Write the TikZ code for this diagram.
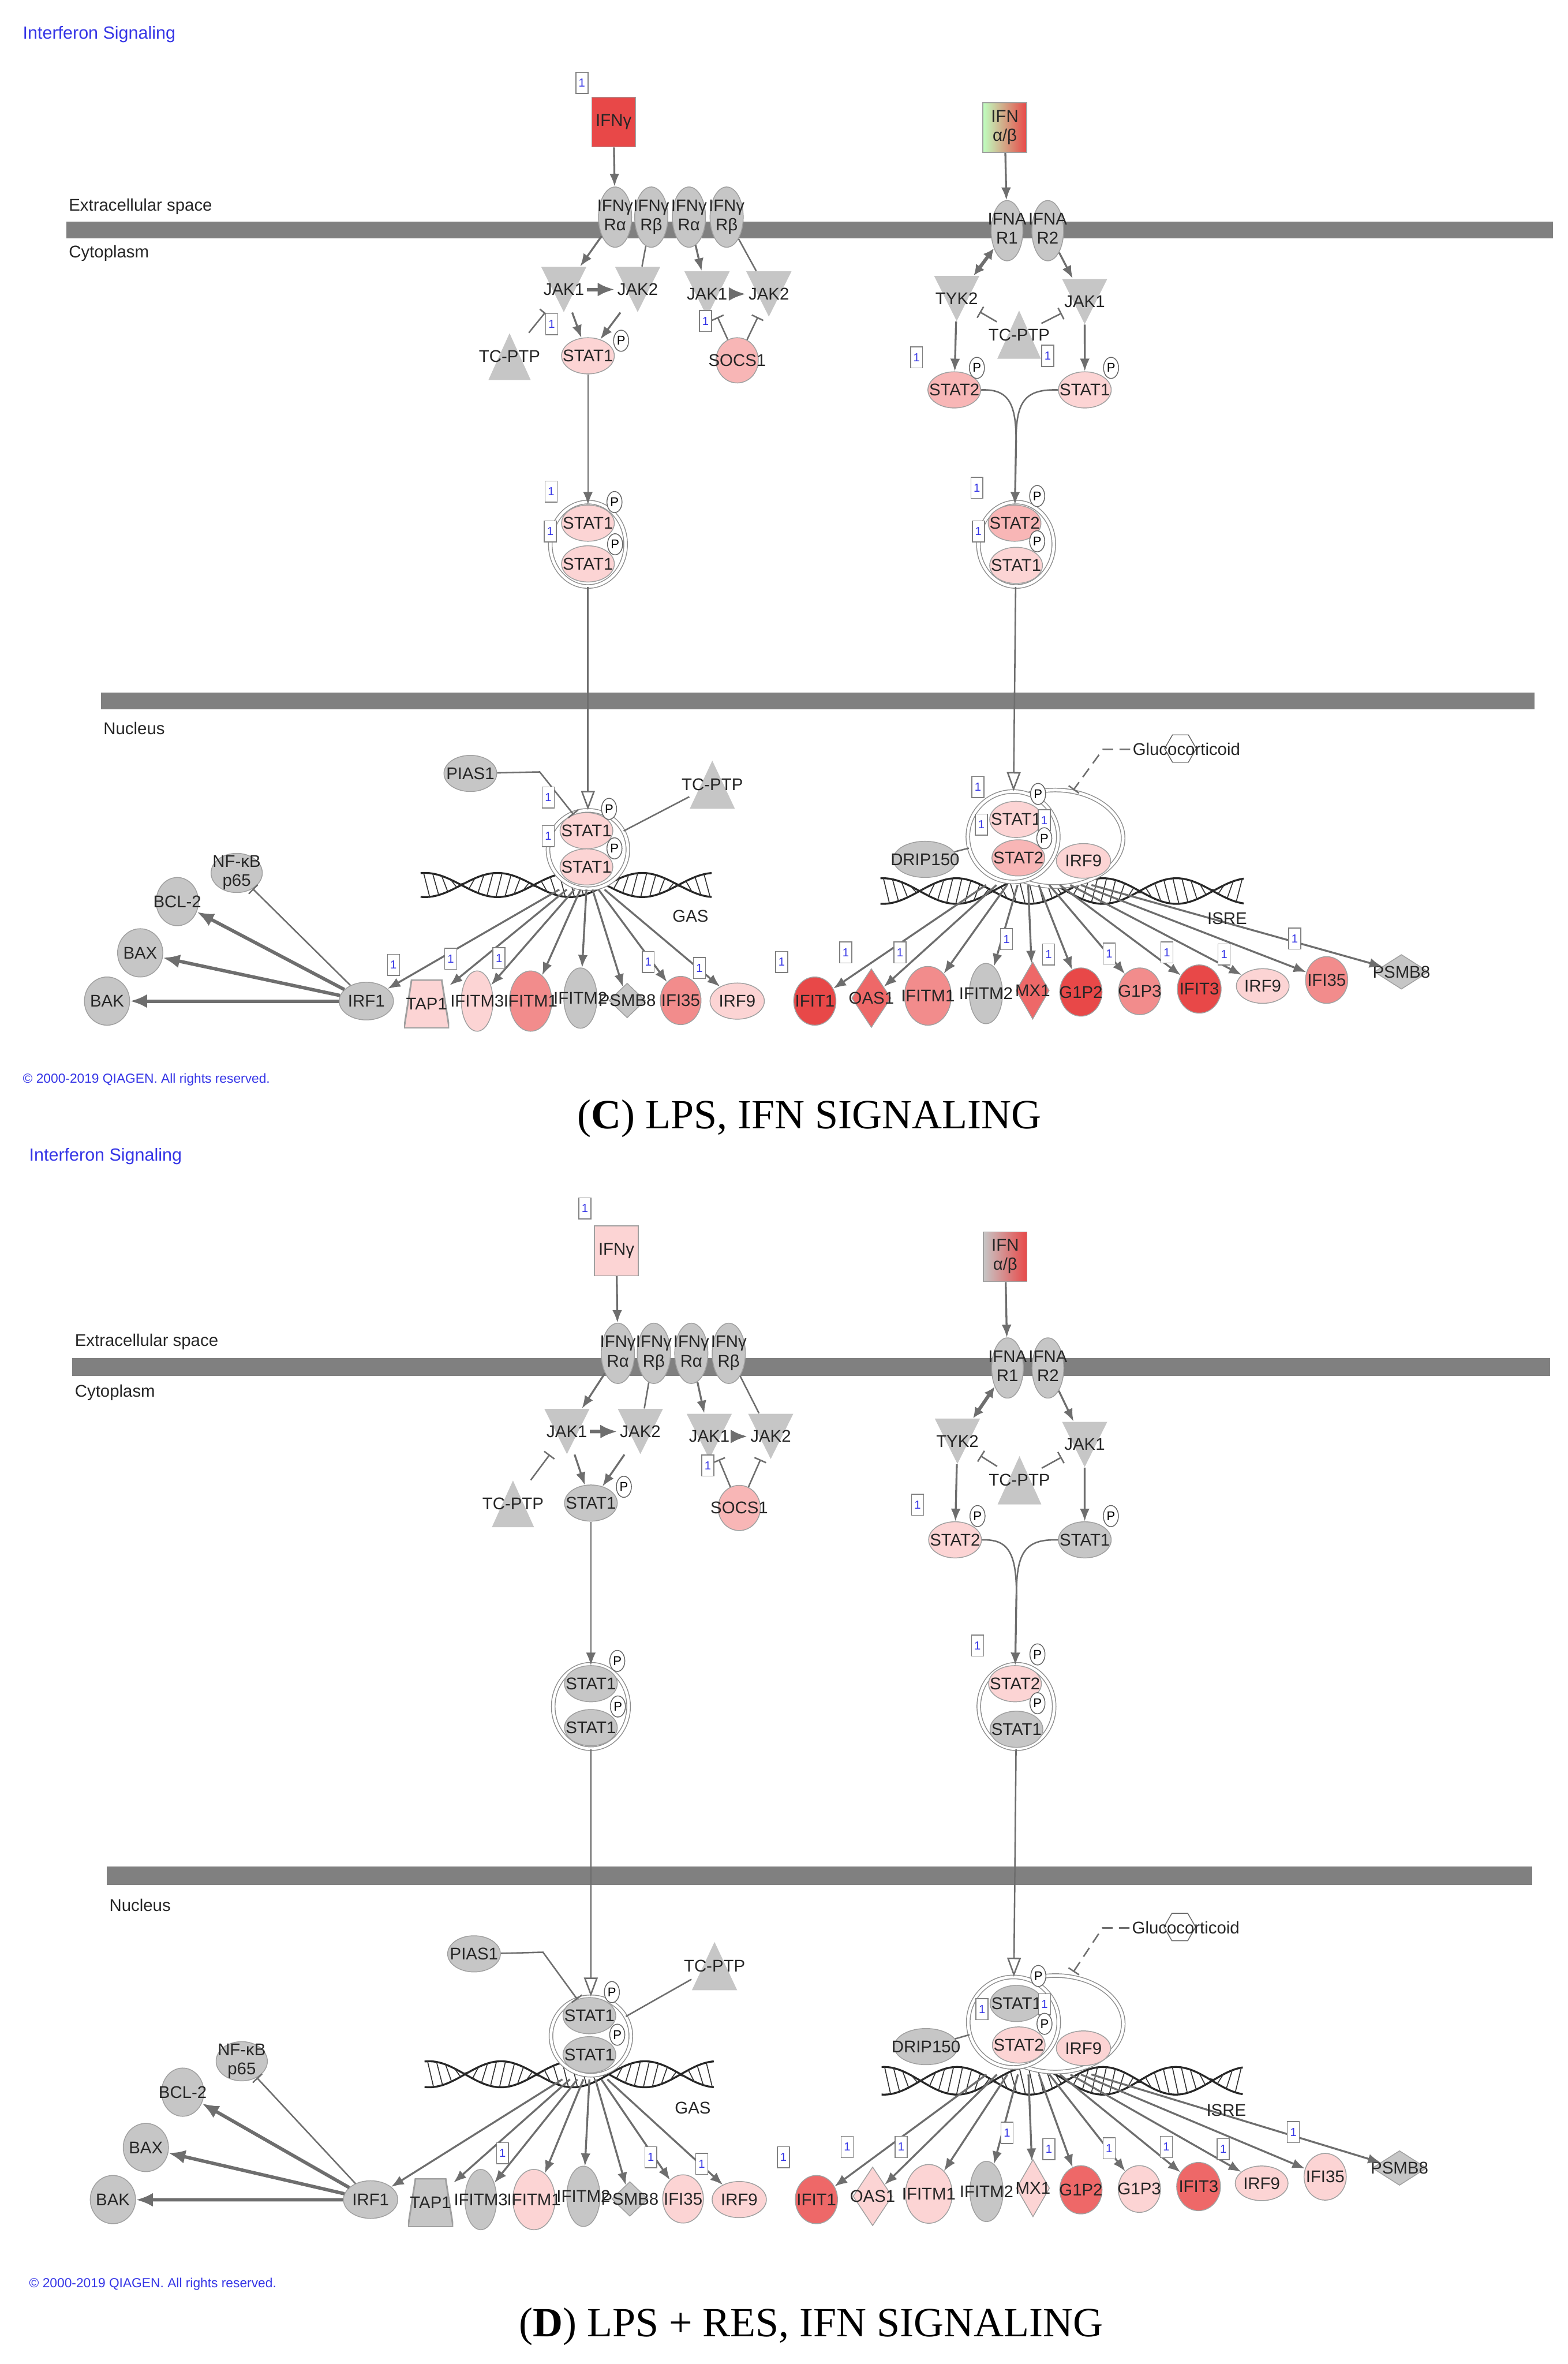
\documentclass[tikz,border=0pt]{standalone}
\usepackage{fontspec}
\setmainfont{Liberation Serif}
\setsansfont{Liberation Sans}
\usetikzlibrary{shapes.geometric,arrows.meta}
\definecolor{nodegray}{HTML}{C6C6C6}
\definecolor{edgegray}{HTML}{A0A0A0}
\definecolor{linkgray}{HTML}{6E6E6E}
\definecolor{barsgray}{HTML}{808080}
\definecolor{qblue}{HTML}{3535E6}
\definecolor{lvA}{HTML}{FCD4D4}
\definecolor{lvB}{HTML}{F8B6B6}
\definecolor{lvC}{HTML}{F28C8C}
\definecolor{lvD}{HTML}{EE6868}
\definecolor{lvE}{HTML}{E84848}
\newdimen\pxu \pxu=0.025cm
\newcommand{\genefont}{\sffamily\fontsize{8}{9}\selectfont}
\newcommand{\twoline}[2]{\smash{\raisebox{-.25em}{\begin{tabular}{@{}c@{}}#1\\#2\end{tabular}}}}
\newif\ifcmarks
\newcommand{\ifnpanel}[1]{%
\fill[barsgray] (44,147) rectangle (1030,158);
\fill[barsgray] (67,459.5) rectangle (1018,470.5);
\draw[dna] plot[domain=279:472,samples=100] (\x,{587+8*sin(3.75*(\x-306))});
\draw[dna] plot[domain=279:472,samples=100] (\x,{587-8*sin(3.75*(\x-306))});
\foreach \x in {281,287,...,467} \draw[rung] (\x,{587+8*sin(3.75*(\x-306))}) -- (\x+4,{587-8*sin(3.75*(\x-302))});
\draw[dna] plot[domain=584:825,samples=120] (\x,{591+8.5*sin(3.7*(\x-610))});
\draw[dna] plot[domain=584:825,samples=120] (\x,{591-8.5*sin(3.7*(\x-610))});
\foreach \x in {586,592,...,820} \draw[rung] (\x,{591+8.5*sin(3.7*(\x-610))}) -- (\x+4,{591-8.5*sin(3.7*(\x-606))});
\node[cpx, minimum width=50\pxu, minimum height=56\pxu] (dimL) at (390,361) {};
\node[cpx, minimum width=50\pxu, minimum height=56\pxu] (dimR) at (674,361) {};
\node[cpx, minimum width=53\pxu, minimum height=52\pxu] (cpxL) at (390,563.5) {};
\node[cpx, minimum width=90\pxu, minimum height=64\pxu] (isgf) at (700,556) {};
\node[cpx, minimum width=60\pxu, minimum height=60\pxu] (stdim) at (672,555) {};
\node[boxn, fill=kifng] (ifng) at (407,81) {IFNγ};
\node[boxn, left color=kabl, middle color=kabm, right color=kabr] (ifnab) at (666.5,84.6) {\twoline{IFN}{α/β}};
\node[rec] (rga) at (408,144) {\twoline{IFNγ}{Rα}};
\node[rec] (rgb) at (432,144) {\twoline{IFNγ}{Rβ}};
\node[rec] (rgc) at (457,144) {\twoline{IFNγ}{Rα}};
\node[rec] (rgd) at (482,144) {\twoline{IFNγ}{Rβ}};
\node[rec, minimum width=21\pxu] (ar1) at (668,153) {\twoline{IFNA}{R1}};
\node[rec, minimum width=21\pxu] (ar2) at (695,153) {\twoline{IFNA}{R2}};
\node[tridown] (jak1a) at (374,192) {JAK1};
\node[tridown] (jak2a) at (423,192) {JAK2};
\node[tridown] (jak1b) at (469,195) {JAK1};
\node[tridown] (jak2b) at (510,195) {JAK2};
\node[tridown] (tyk) at (634.6,198) {TYK2};
\node[tridown] (jakr) at (719.5,200) {JAK1};
\node[triup, minimum width=28\pxu, minimum height=31\pxu] (tcpa) at (338,236.5) {TC-PTP};
\node[triup, minimum width=29\pxu, minimum height=32\pxu] (tcpb) at (676,222) {TC-PTP};
\node[triup, minimum width=30\pxu, minimum height=32\pxu] (tcpn) at (472.5,520.5) {TC-PTP};
\node[statn, fill=kstc] (stc) at (390,236) {STAT1};
\node[gene, fill=ksocs, minimum width=28\pxu, minimum height=30\pxu] (socs) at (489,239) {SOCS1};
\node[statn, fill=kstb] (st2c) at (633,258.6) {STAT2};
\node[statn, fill=ksta] (st1c) at (719.6,258.6) {STAT1};
\node[statn, fill=kdl] (sdl1) at (390,347) {STAT1};
\node[statn, fill=kdl] (sdl2) at (390,374) {STAT1};
\node[statn, fill=kdrb] (sdr2) at (673,347) {STAT2};
\node[statn, fill=kdra] (sdr1) at (674,375) {STAT1};
\node[statn, fill=nodegray] (pias) at (312,513) {PIAS1};
\node[statn, fill=knl] (snl1) at (389,551) {STAT1};
\node[statn, fill=knl] (snl2) at (389,575) {STAT1};
\node[statn, fill=knsa] (snr1) at (674,543.5) {STAT1};
\node[statn, fill=knsb] (snr2) at (675.5,569) {STAT2};
\node[statn, fill=knirf, minimum width=36\pxu, minimum height=23\pxu] (nirf) at (718.7,571) {IRF9};
\node[statn, fill=nodegray, minimum width=42\pxu] (drip) at (613.6,570) {DRIP150};
\node[hexa] (gluhex) at (783,496.5) {};
\node[lblt] (gluco) at (787,497) {Glucocorticoid};
\coordinate (glutip) at (712,524);
\node[gene, fill=nodegray, minimum width=34\pxu, minimum height=26\pxu] (nfkb) at (157,579) {\twoline{NF-κB}{p65}};
\node[gene, fill=nodegray, minimum width=28\pxu, minimum height=32\pxu] (bcl) at (117.6,598) {BCL-2};
\node[gene, fill=nodegray, minimum width=30\pxu, minimum height=32\pxu] (bax) at (93,632) {BAX};
\node[gene, fill=nodegray, minimum width=30\pxu, minimum height=32\pxu] (bak) at (71,664) {BAK};
\node[gene, fill=nodegray, minimum width=36\pxu, minimum height=25\pxu] (irf1) at (243,664) {IRF1};
\node[trap=ktap] (tap) at (283,666) {TAP1};
\node[gene, fill=kiftc, minimum width=21\pxu, minimum height=40\pxu] (ifitmIII) at (316.5,664) {IFITM3};
\node[gene, fill=kifta, minimum width=28\pxu, minimum height=40\pxu] (ifitmIa) at (352,664) {IFITM1};
\node[gene, fill=nodegray, minimum width=22\pxu, minimum height=40\pxu] (ifitmIIa) at (385,662) {IFITM2};
\node[dia, fill=nodegray, minimum width=24\pxu, minimum height=23\pxu] (psmba) at (416,663.6) {PSMB8};
\node[gene, fill=kifia, minimum width=27\pxu, minimum height=32\pxu] (ifia) at (451.5,663.6) {IFI35};
\node[gene, fill=kirfa, minimum width=36\pxu, minimum height=24\pxu] (irfa) at (489,664) {IRF9};
\node[gene, fill=kifit, minimum width=28\pxu, minimum height=32\pxu] (ifitI) at (540.5,664) {IFIT1};
\node[dia, fill=koas, minimum width=26\pxu, minimum height=39\pxu] (oas) at (578,662) {OAS1};
\node[gene, fill=kiftb, minimum width=31\pxu, minimum height=39\pxu] (ifitmIb) at (615.5,660.5) {IFITM1};
\node[gene, fill=nodegray, minimum width=22\pxu, minimum height=40\pxu] (ifitmIIb) at (654,659) {IFITM2};
\node[dia, fill=kmx, minimum width=22\pxu, minimum height=38\pxu] (mx) at (685,657) {MX1};
\node[gene, fill=kgpb, minimum width=28\pxu, minimum height=32\pxu] (gpII) at (717,658) {G1P2};
\node[gene, fill=kgpc, minimum width=28\pxu, minimum height=31\pxu] (gpIII) at (756,657.5) {G1P3};
\node[gene, fill=kifitc, minimum width=29\pxu, minimum height=32\pxu] (ifitIII) at (795.5,656) {IFIT3};
\node[gene, fill=kirfb, minimum width=35\pxu, minimum height=23\pxu] (irfb) at (837.6,654) {IRF9};
\node[gene, fill=kifib, minimum width=28\pxu, minimum height=31\pxu] (ifib) at (880,650) {IFI35};
\node[dia, fill=nodegray, minimum width=36\pxu, minimum height=23\pxu] (psmbb) at (929.6,644.6) {PSMB8};
\draw[arr] (ifng) -- (rga);
\draw[arr] (rga) -- (jak1a);
\draw[conn] (rgb) -- (jak2a);
\draw[arr] (rgc) -- (jak1b);
\draw[conn] (rgd) -- (jak2b);
\draw[arrH] (jak1a) -- (jak2a);
\draw[arrH] (jak1b) -- (jak2b);
\draw[arr] (jak1a) -- (stc);
\draw[arr] (jak2a) -- (stc);
\draw[inh] (tcpa) -- (jak1a);
\draw[inh] (socs) -- (jak1b);
\draw[inh] (socs) -- (jak2b);
\draw[arr] (ifnab) -- (ar1);
\draw[dbl] (ar1) -- (tyk);
\draw[arr] (ar2) -- (jakr);
\draw[inh] (tcpb) -- (tyk);
\draw[inh] (tcpb) -- (jakr);
\draw[arr] (tyk) -- (st2c);
\draw[arr] (jakr) -- (st1c);
\coordinate (mrg) at (674,292);
\draw[conn] (st2c.east) .. controls (668,258) and (674,266) .. (mrg);
\draw[conn] (st1c.west) .. controls (680,258) and (674,266) .. (mrg);
\draw[arr] (mrg) -- (sdr2);
\draw[arrT] (stc) -- (sdl1);
\draw[openarr] (dimL) -- (cpxL);
\draw[openarr] (dimR) -- (stdim);
\draw[inh] (pias) -- (358,512) -- (snl1);
\draw[conn] (cpxL) -- (tcpn);
\draw[conn] (drip) -- (stdim);
\draw[inhdash] (gluco.west) -- ++(-18,0) -- (glutip);
\draw[arrH] (irf1) -- (bak);
\draw[arrH] (irf1) -- (bax);
\draw[arrH] (irf1) -- (bcl);
\draw[inh] (irf1) -- (nfkb);
\coordinate (hubL) at (389,590);
\draw[arr] ([xshift=-18\pxu]hubL) -- (irf1);
\draw[arr] ([xshift=-13\pxu]hubL) -- (tap);
\draw[arr] ([xshift=-8\pxu]hubL) -- (ifitmIII);
\draw[arr] ([xshift=-4\pxu]hubL) -- (ifitmIa);
\draw[arr] (hubL) -- (ifitmIIa);
\draw[arr] ([xshift=4\pxu]hubL) -- (psmba);
\draw[arr] ([xshift=8\pxu]hubL) -- (ifia);
\draw[arr] ([xshift=12\pxu]hubL) -- (irfa);
\coordinate (hubR) at (690,587);
\draw[arr] ([xshift=-36\pxu]hubR) -- (ifitI);
\draw[arr] ([xshift=-29\pxu]hubR) -- (oas);
\draw[arr] ([xshift=-22\pxu]hubR) -- (ifitmIb);
\draw[arr] ([xshift=-15\pxu]hubR) -- (ifitmIIb);
\draw[arr] ([xshift=-8\pxu]hubR) -- (mx);
\draw[arr] ([xshift=-1\pxu]hubR) -- (gpII);
\draw[arr] ([xshift=6\pxu]hubR) -- (gpIII);
\draw[arr] ([xshift=13\pxu]hubR) -- (ifitIII);
\draw[arr] ([xshift=20\pxu]hubR) -- (irfb);
\draw[arr] ([xshift=27\pxu]hubR) -- (ifib);
\draw[arr] ([xshift=34\pxu]hubR) -- (psmbb);
\node[phos] (pa) at (412,226) {P};
\node[phos] (pb) at (648,244) {P};
\node[phos] (pc) at (737,244) {P};
\node[phos] (pd) at (407.6,333) {P};
\node[phos] (pe) at (408,361) {P};
\node[phos] (pf) at (688,329) {P};
\node[phos] (pg) at (688,359) {P};
\node[phos] (ph) at (404,536.5) {P};
\node[phos] (pi) at (407.6,562.7) {P};
\node[phos] (pj) at (688.6,526.6) {P};
\node[onebox] (uf) at (692.7,544) {1};
\node[phos] (pk) at (692.7,556) {P};
\node[onebox] (ua) at (386,55) {1};
\node[onebox] (ub) at (468,213) {1};
\node[onebox] (uc) at (608,237) {1};
\node[onebox] (ud) at (648,323.6) {1};
\node[onebox] (ue) at (651,547) {1};
\node[onebox] (ug) at (331,635.5) {1};
\node[onebox] (uh) at (430,638) {1};
\node[onebox] (ui) at (464,642) {1};
\node[onebox] (uj) at (518.5,638) {1};
\node[onebox] (uk) at (561,631.7) {1};
\node[onebox] (ul) at (597,631.7) {1};
\node[onebox] (um) at (667.7,623) {1};
\node[onebox] (un) at (695.6,633) {1};
\node[onebox] (uo) at (735.8,632.5) {1};
\node[onebox] (up) at (774,631.7) {1};
\node[onebox] (uq) at (812,633) {1};
\node[onebox] (ur) at (858.8,622.5) {1};
\ifcmarks
\node[onebox] (va) at (366,215) {1};
\node[onebox] (vb) at (695,236) {1};
\node[onebox] (vc) at (365.6,326) {1};
\node[onebox] (vd) at (365,352.5) {1};
\node[onebox] (ve) at (649,352.5) {1};
\node[onebox] (vf) at (363.7,529) {1};
\node[onebox] (vg) at (363.7,554.5) {1};
\node[onebox] (vh) at (261,640) {1};
\node[onebox] (vi) at (299,636) {1};
\node[onebox] (vj) at (648.7,522) {1};
\fi
\node[lblt, anchor=west] (xcs) at (44,137) {Extracellular space};
\node[lblt, anchor=west] (cyt) at (44,168) {Cytoplasm};
\node[lblt, anchor=west] (nuc) at (67,483) {Nucleus};
\node[lblt] (gas) at (458,607.6) {GAS};
\node[lblt] (isre) at (814,609) {ISRE};
\node[heading] (ttl) at (13.5,23) {Interferon Signaling};
\node[rights] (cpr) at (13.5,716) {© 2000-2019 QIAGEN. All rights reserved.};
\node[capt] (cap) at (537,742) {#1};
}
\begin{document}
\begin{tikzpicture}[x=0.025cm, y=-0.025cm,
  >={Latex[length=6pt,width=4.6pt]},
  zw/.style={execute at begin node={\hbox to 0pt\bgroup\hss}, execute at end node={\hss\egroup}},
  gene/.style={ellipse, draw=edgegray, line width=0.4pt, inner sep=0pt, font=\genefont, text=black!85, zw},
  statn/.style={gene, minimum width=35\pxu, minimum height=24\pxu},
  rec/.style={gene, fill=nodegray, minimum width=22\pxu, minimum height=40\pxu},
  boxn/.style={rectangle, draw=edgegray, line width=0.4pt, inner sep=0pt, minimum width=29\pxu, minimum height=33\pxu, font=\genefont, text=black!85, zw},
  dia/.style={diamond, draw=edgegray, line width=0.4pt, inner sep=0pt, font=\genefont, text=black!85, zw},
  trap/.style={rectangle, inner sep=0pt, minimum width=30\pxu, minimum height=32\pxu, font=\genefont, text=black!85, zw,
    path picture={\filldraw[fill=#1, draw=edgegray, line width=0.8pt] (path picture bounding box.south west) -- (path picture bounding box.south east) -- ([xshift=-5\pxu]path picture bounding box.north east) -- ([xshift=5\pxu]path picture bounding box.north west) -- cycle;}},
  tridown/.style={rectangle, inner sep=0pt, minimum width=30\pxu, minimum height=30\pxu, font=\genefont, text=black!85, zw,
    path picture={\fill[nodegray] (path picture bounding box.north west) -- (path picture bounding box.north east) -- (path picture bounding box.south) -- cycle;}},
  triup/.style={rectangle, inner sep=0pt, minimum width=30\pxu, minimum height=30\pxu, font=\genefont, text=black!85, zw,
    path picture={\fill[nodegray] (path picture bounding box.south west) -- (path picture bounding box.south east) -- (path picture bounding box.north) -- cycle;}},
  cpx/.style={ellipse, draw=black!45, double=white, double distance=1.3pt, line width=0.4pt, fill=white, inner sep=0pt},
  hexa/.style={regular polygon, regular polygon sides=6, draw=black!60, line width=0.4pt, minimum size=21\pxu, inner sep=0pt},
  phos/.style={ellipse, draw=black!60, fill=white, line width=0.4pt, inner sep=0pt, minimum width=10\pxu, minimum height=14\pxu, font=\sffamily\fontsize{6}{6}\selectfont},
  onebox/.style={rectangle, draw=black!50, fill=white, line width=0.4pt, inner sep=0pt, minimum width=8\pxu, minimum height=14\pxu, font=\sffamily\fontsize{5.5}{6}\selectfont, text=qblue},
  arr/.style={->, draw=linkgray, line width=0.9pt},
  arrH/.style={->, draw=linkgray, line width=1.6pt, >={Latex[length=8pt,width=6.5pt]}},
  arrT/.style={->, draw=linkgray, line width=0.6pt},
  dbl/.style={<->, draw=linkgray, line width=1.6pt, >={Latex[length=5pt,width=5pt]}},
  inh/.style={-{Bar[width=6pt]}, draw=linkgray, line width=0.7pt},
  inhdash/.style={inh, dash pattern=on 5pt off 3pt},
  conn/.style={draw=linkgray, line width=0.7pt},
  openarr/.style={-{Triangle[length=9pt,width=6.5pt,fill=white]}, draw=linkgray, line width=0.7pt},
  dna/.style={draw=black!85, line width=0.9pt},
  rung/.style={draw=black!80, line width=0.45pt},
  lblt/.style={font=\genefont, text=black!85, inner sep=1pt},
  heading/.style={font=\sffamily\fontsize{8.3}{10}\selectfont, text=qblue, inner sep=1pt, anchor=west},
  rights/.style={font=\sffamily\fontsize{6.2}{7}\selectfont, text=qblue, inner sep=1pt, anchor=west},
  capt/.style={font=\rmfamily\fontsize{19.6}{22}\selectfont, inner sep=0pt}
]
\useasboundingbox (0,0) rectangle (1040,1568);
\begin{scope}[name prefix=c-]
\colorlet{kifng}{lvE}\colorlet{kabl}{green!25!white}\colorlet{kabm}{green!18!lvB}\colorlet{kabr}{lvE}
\colorlet{kstc}{lvA}\colorlet{ksocs}{lvB}\colorlet{kstb}{lvB}\colorlet{ksta}{lvA}
\colorlet{kdl}{lvA}\colorlet{kdrb}{lvB}\colorlet{kdra}{lvA}\colorlet{knl}{lvA}
\colorlet{ktap}{lvA}\colorlet{kiftc}{lvA}\colorlet{kifta}{lvC}\colorlet{kifia}{lvC}\colorlet{kirfa}{lvA}
\colorlet{knsa}{lvA}\colorlet{knsb}{lvB}\colorlet{knirf}{lvA}
\colorlet{kifit}{lvE}\colorlet{koas}{lvD}\colorlet{kiftb}{lvC}\colorlet{kmx}{lvD}\colorlet{kgpb}{lvE}
\colorlet{kgpc}{lvC}\colorlet{kifitc}{lvE}\colorlet{kirfb}{lvA}\colorlet{kifib}{lvC}
\cmarkstrue
\ifnpanel{(\textbf{C}) LPS, IFN SIGNALING}
\end{scope}
\begin{scope}[shift={(4.3,742.2)}, xscale=0.994, yscale=1.0794, name prefix=d-]
\colorlet{kifng}{lvA}\colorlet{kabl}{nodegray}\colorlet{kabm}{nodegray!70!lvB}\colorlet{kabr}{lvE}
\colorlet{kstc}{nodegray}\colorlet{ksocs}{lvB}\colorlet{kstb}{lvA}\colorlet{ksta}{nodegray}
\colorlet{kdl}{nodegray}\colorlet{kdrb}{lvA}\colorlet{kdra}{nodegray}\colorlet{knl}{nodegray}
\colorlet{ktap}{nodegray}\colorlet{kiftc}{nodegray}\colorlet{kifta}{lvA}\colorlet{kifia}{lvA}\colorlet{kirfa}{lvA}
\colorlet{knsa}{nodegray}\colorlet{knsb}{lvA}\colorlet{knirf}{lvA}
\colorlet{kifit}{lvD}\colorlet{koas}{lvA}\colorlet{kiftb}{lvA}\colorlet{kmx}{lvA}\colorlet{kgpb}{lvD}
\colorlet{kgpc}{lvA}\colorlet{kifitc}{lvD}\colorlet{kirfb}{lvA}\colorlet{kifib}{lvA}
\cmarksfalse
\ifnpanel{(\textbf{D}) LPS + RES, IFN SIGNALING}
\end{scope}
\end{tikzpicture}
\end{document}
